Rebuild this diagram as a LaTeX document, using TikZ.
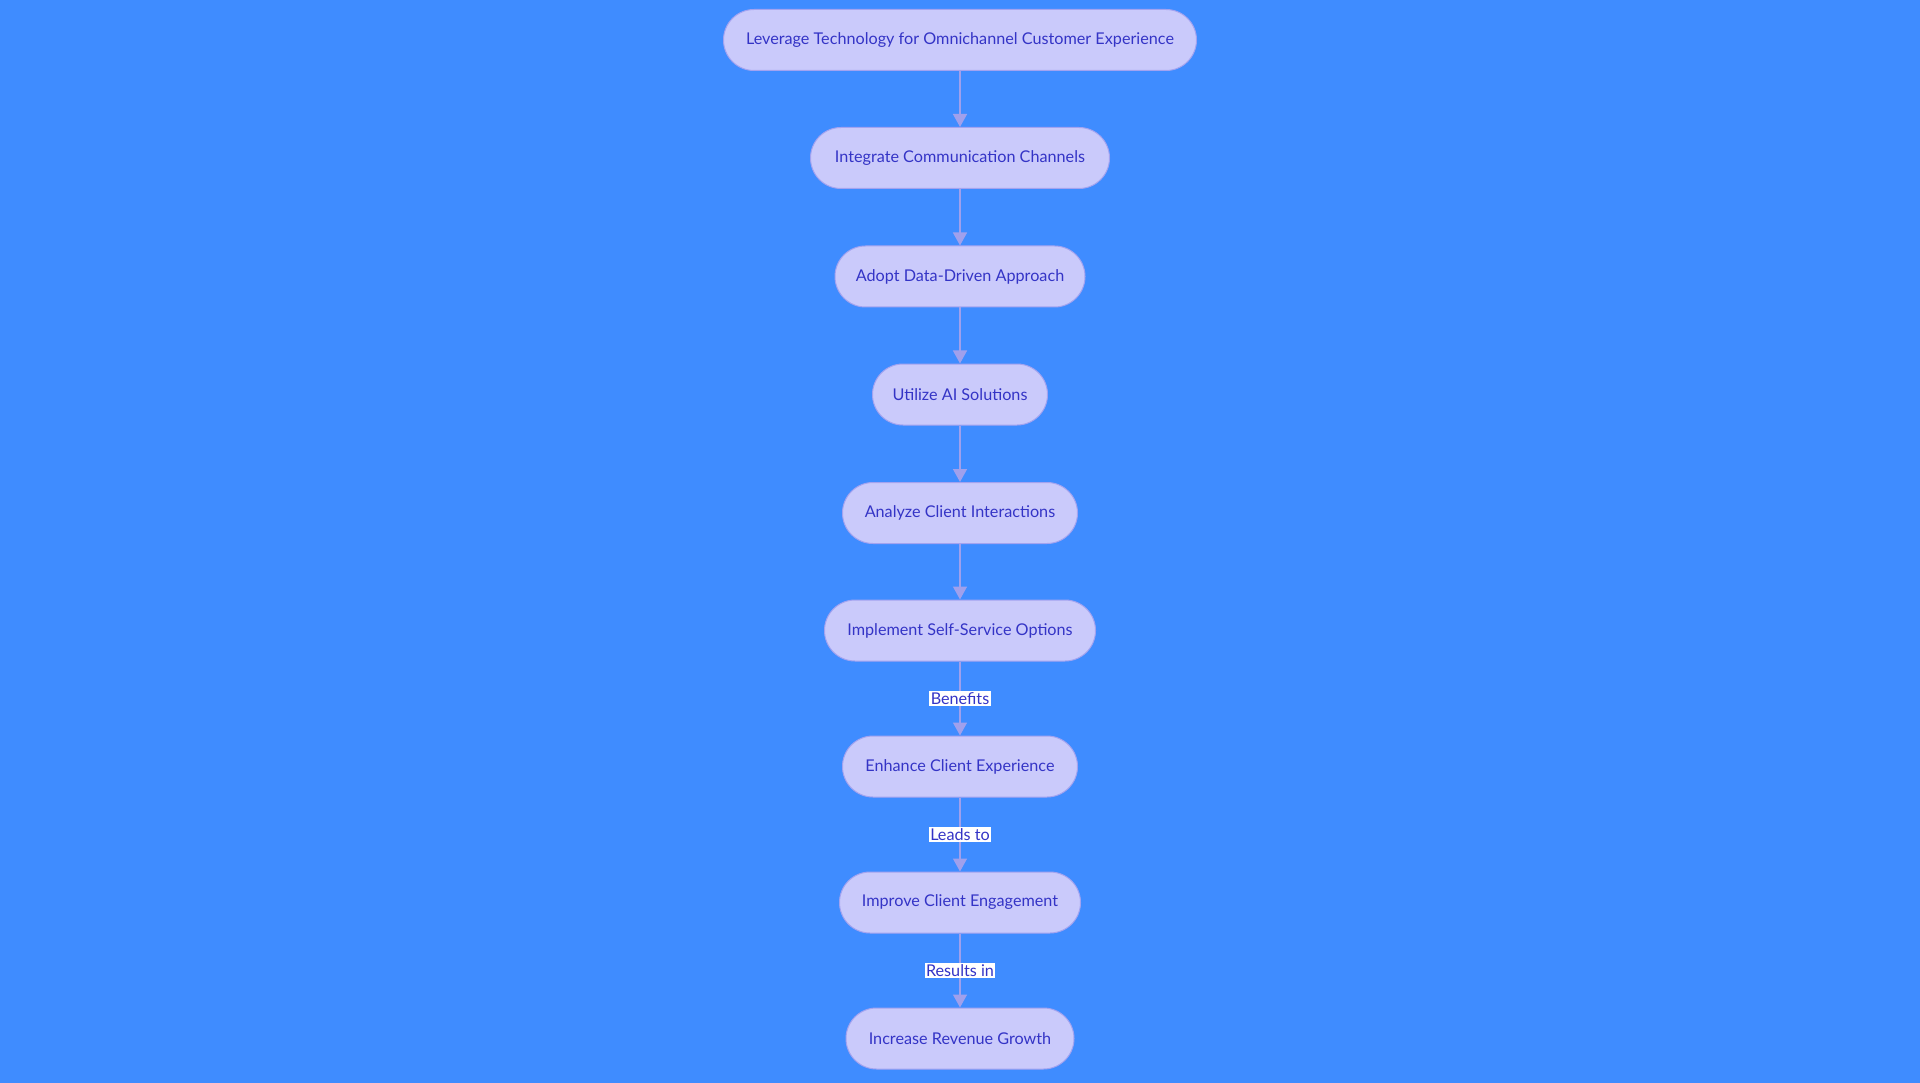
\documentclass[tikz,border=0pt]{standalone}
\usepackage{fontspec}
\setmainfont{Lato}
\usetikzlibrary{arrows.meta}
\definecolor{bgblue}{HTML}{3F8CFF}
\definecolor{stepfill}{HTML}{CACAFB}
\definecolor{stepline}{HTML}{A3A3F0}
\definecolor{steptext}{HTML}{3434C6}
\definecolor{linkline}{HTML}{A0A0EC}
\tikzset{
  stepbox/.style={draw=stepline, line width=1pt, fill=stepfill, text=steptext,
    rounded corners=30.5pt, minimum height=61pt, inner xsep=0pt,
    font=\fontsize{16.2}{19}\selectfont},
  link/.style={draw=linkline, line width=1.5pt, -{Triangle[width=14pt,length=13pt]}},
  linklabel/.style={fill=white, text=steptext, inner sep=1.5pt,
    font=\fontsize{16.2}{19}\selectfont}
}
\begin{document}
\begin{tikzpicture}[x=1pt,y=1pt]
    \fill[bgblue] (0,0) rectangle (1920,-1083);
    \useasboundingbox (0,0) rectangle (1920,-1083);
    \node[stepbox, minimum width=473pt] (lever) at (960,-40) {Leverage Technology for Omnichannel Customer Experience};
    \node[stepbox, minimum width=299pt] (integ) at (960,-158) {Integrate Communication Channels};
    \node[stepbox, minimum width=250pt] (adopt) at (960,-276.5) {Adopt Data-Driven Approach};
    \node[stepbox, minimum width=175pt] (ai) at (960,-394.5) {Utilize AI Solutions};
    \node[stepbox, minimum width=235pt] (analyze) at (960,-513) {Analyze Client Interactions};
    \node[stepbox, minimum width=271pt] (self) at (960,-630.5) {Implement Self-Service Options};
    \node[stepbox, minimum width=235pt] (enhance) at (960,-766.5) {Enhance Client Experience};
    \node[stepbox, minimum width=241pt] (engage) at (960,-902.5) {Improve Client Engagement};
    \node[stepbox, minimum width=228pt] (revenue) at (960,-1038.5) {Increase Revenue Growth};
    \draw[link] (lever) -- (integ);
    \draw[link] (integ) -- (adopt);
    \draw[link] (adopt) -- (ai);
    \draw[link] (ai) -- (analyze);
    \draw[link] (analyze) -- (self);
    \draw[link] (self) -- (enhance) node[midway, linklabel]{Benefits};
    \draw[link] (enhance) -- (engage) node[midway, linklabel]{Leads to};
    \draw[link] (engage) -- (revenue) node[midway, linklabel]{Results in};
\end{tikzpicture}
\end{document}
